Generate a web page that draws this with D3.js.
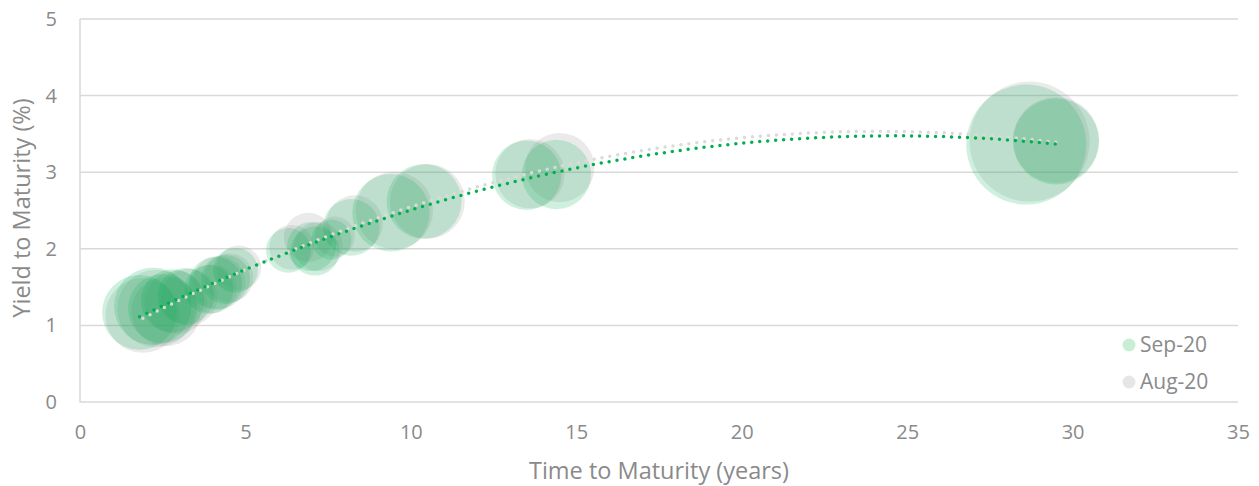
<!DOCTYPE html>
<html>
<head>
<meta charset="utf-8">
<script src="https://cdn.jsdelivr.net/npm/d3@7"></script>
<style>
  body { margin: 0; background: #fff; }
  svg text { font-family: "Open Sans", Lato, sans-serif; fill: #8a8a8a; }
</style>
</head>
<body>
<div id="chart"></div>
<script>
// Sep-20 bonds: time to maturity (years), yield (%), bubble size (amount outstanding)
const sepMaturity = [1.8, 2.2, 2.5, 2.8, 3.2, 3.9, 4.1, 4.4, 4.7, 6.3, 7.0, 7.1, 7.6, 8.2, 9.4, 10.4, 13.5, 14.4, 28.6, 29.5];
const sepYield = [1.17, 1.25, 1.22, 1.32, 1.38, 1.47, 1.55, 1.60, 1.72, 1.98, 2.03, 1.97, 2.12, 2.28, 2.47, 2.62, 2.96, 2.97, 3.36, 3.40];
const sepSize = [14, 15, 12, 10, 8, 6, 7, 6, 5, 5, 6, 6, 4, 8, 15, 14, 12, 12, 36, 18.5];

// Aug-20 bonds
const augMaturity = [1.9, 2.3, 2.6, 2.9, 3.3, 4.0, 4.2, 4.5, 4.8, 6.4, 6.9, 7.2, 7.7, 8.3, 9.5, 10.5, 13.6, 14.5, 28.7, 29.5];
const augYield = [1.13, 1.22, 1.18, 1.30, 1.37, 1.48, 1.56, 1.62, 1.75, 2.02, 2.15, 2.03, 2.16, 2.33, 2.50, 2.62, 2.98, 3.06, 3.40, 3.42];
const augSize = [14, 15, 12, 10, 8, 6, 7, 6, 5, 5, 6, 6, 4, 8, 15, 14, 12, 12, 36, 18.5];

const seriesNames = ["Sep-20", "Aug-20"];
const xTicks = [0, 5, 10, 15, 20, 25, 30, 35];
const yTicks = [0, 1, 2, 3, 4, 5];

const width = 1259;
const height = 486;
const plot = { left: 80, right: 1238, top: 19, bottom: 402 };

const x = d3.scaleLinear().domain([0, 35]).range([plot.left, plot.right]);
const y = d3.scaleLinear().domain([0, 5]).range([plot.bottom, plot.top]);
const r = d3.scaleSqrt().domain([0, 36]).range([0, 60]);

const series = [
  {
    name: seriesNames[1],
    points: augMaturity.map((m, i) => ({ m, y: augYield[i], s: augSize[i] })),
    fill: "rgba(160,160,160,0.22)",
    trend: "#dadada",
    marker: "#e6e6e6",
  },
  {
    name: seriesNames[0],
    points: sepMaturity.map((m, i) => ({ m, y: sepYield[i], s: sepSize[i] })),
    fill: "rgba(0,176,80,0.19)",
    trend: "#00b050",
    marker: "#c8efd5",
  },
];

// order-2 polynomial least squares, like the spreadsheet trendline
function quadFit(pts) {
  const S = [0, 0, 0, 0, 0];
  const T = [0, 0, 0];
  pts.forEach((p) => {
    for (let k = 0; k < 5; k++) S[k] += Math.pow(p.m, k);
    for (let k = 0; k < 3; k++) T[k] += p.y * Math.pow(p.m, k);
  });
  const A = [
    [S[0], S[1], S[2], T[0]],
    [S[1], S[2], S[3], T[1]],
    [S[2], S[3], S[4], T[2]],
  ];
  for (let i = 0; i < 3; i++) {
    for (let j = i + 1; j < 3; j++) {
      const f = A[j][i] / A[i][i];
      for (let k = i; k < 4; k++) A[j][k] -= f * A[i][k];
    }
  }
  const c = [0, 0, 0];
  for (let i = 2; i >= 0; i--) {
    let v = A[i][3];
    for (let k = i + 1; k < 3; k++) v -= A[i][k] * c[k];
    c[i] = v / A[i][i];
  }
  return (m) => c[0] + c[1] * m + c[2] * m * m;
}

const svg = d3
  .select("#chart")
  .append("svg")
  .attr("width", width)
  .attr("height", height);

// gridlines
svg
  .append("g")
  .selectAll("line")
  .data(yTicks.filter((d) => d > 0))
  .enter()
  .append("line")
  .attr("x1", plot.left)
  .attr("x2", plot.right)
  .attr("y1", (d) => y(d))
  .attr("y2", (d) => y(d))
  .attr("stroke", "#d9d9d9")
  .attr("stroke-width", 1.5);

// axis lines
svg
  .append("path")
  .attr("d", `M${plot.left},${plot.top}V${plot.bottom}H${plot.right}`)
  .attr("fill", "none")
  .attr("stroke", "#d9d9d9")
  .attr("stroke-width", 1.5);

const xAxis = svg
  .append("g")
  .attr("transform", `translate(0,${plot.bottom + 23})`)
  .call(d3.axisBottom(x).tickValues(xTicks).tickSize(0).tickPadding(0).tickFormat(d3.format("d")));
xAxis.select(".domain").remove();
xAxis.selectAll("text").attr("font-size", 20).attr("dy", "0.71em");

const yAxis = svg
  .append("g")
  .attr("transform", `translate(${plot.left - 23},0)`)
  .call(d3.axisLeft(y).tickValues(yTicks).tickSize(0).tickPadding(0).tickFormat(d3.format("d")));
yAxis.select(".domain").remove();
yAxis.selectAll("text").attr("font-size", 20);

svg
  .append("text")
  .attr("x", 659)
  .attr("y", 479)
  .attr("text-anchor", "middle")
  .attr("font-size", 23.5)
  .text("Time to Maturity (years)");

svg
  .append("text")
  .attr("transform", `translate(30,208) rotate(-90)`)
  .attr("text-anchor", "middle")
  .attr("font-size", 23.5)
  .text("Yield to Maturity (%)");

// bubbles
const bubbles = svg.append("g");
series.forEach((s) => {
  bubbles
    .append("g")
    .selectAll("circle")
    .data(s.points)
    .enter()
    .append("circle")
    .attr("cx", (d) => x(d.m))
    .attr("cy", (d) => y(d.y))
    .attr("r", (d) => r(d.s))
    .attr("fill", s.fill);
});

// trendlines
const line = d3
  .line()
  .x((d) => x(d[0]))
  .y((d) => y(d[1]));
series.forEach((s) => {
  const f = quadFit(s.points);
  const [lo, hi] = d3.extent(s.points, (d) => d.m);
  const pts = d3.range(0, 101).map((i) => {
    const m = lo + ((hi - lo) * i) / 100;
    return [m, f(m)];
  });
  svg
    .append("path")
    .attr("d", line(pts))
    .attr("fill", "none")
    .attr("stroke", s.trend)
    .attr("stroke-width", 3.5)
    .attr("stroke-linecap", "round")
    .attr("stroke-dasharray", "0 8");
});

// legend
const legend = svg
  .append("g")
  .selectAll("g")
  .data([series[1], series[0]])
  .enter()
  .append("g")
  .attr("transform", (d, i) => `translate(1129,${345 + i * 37})`);
legend.append("circle").attr("r", 6.5).attr("fill", (d) => d.marker);
legend
  .append("text")
  .attr("x", 11)
  .attr("dy", "0.35em")
  .attr("font-size", 21)
  .text((d) => d.name);
</script>
</body>
</html>
